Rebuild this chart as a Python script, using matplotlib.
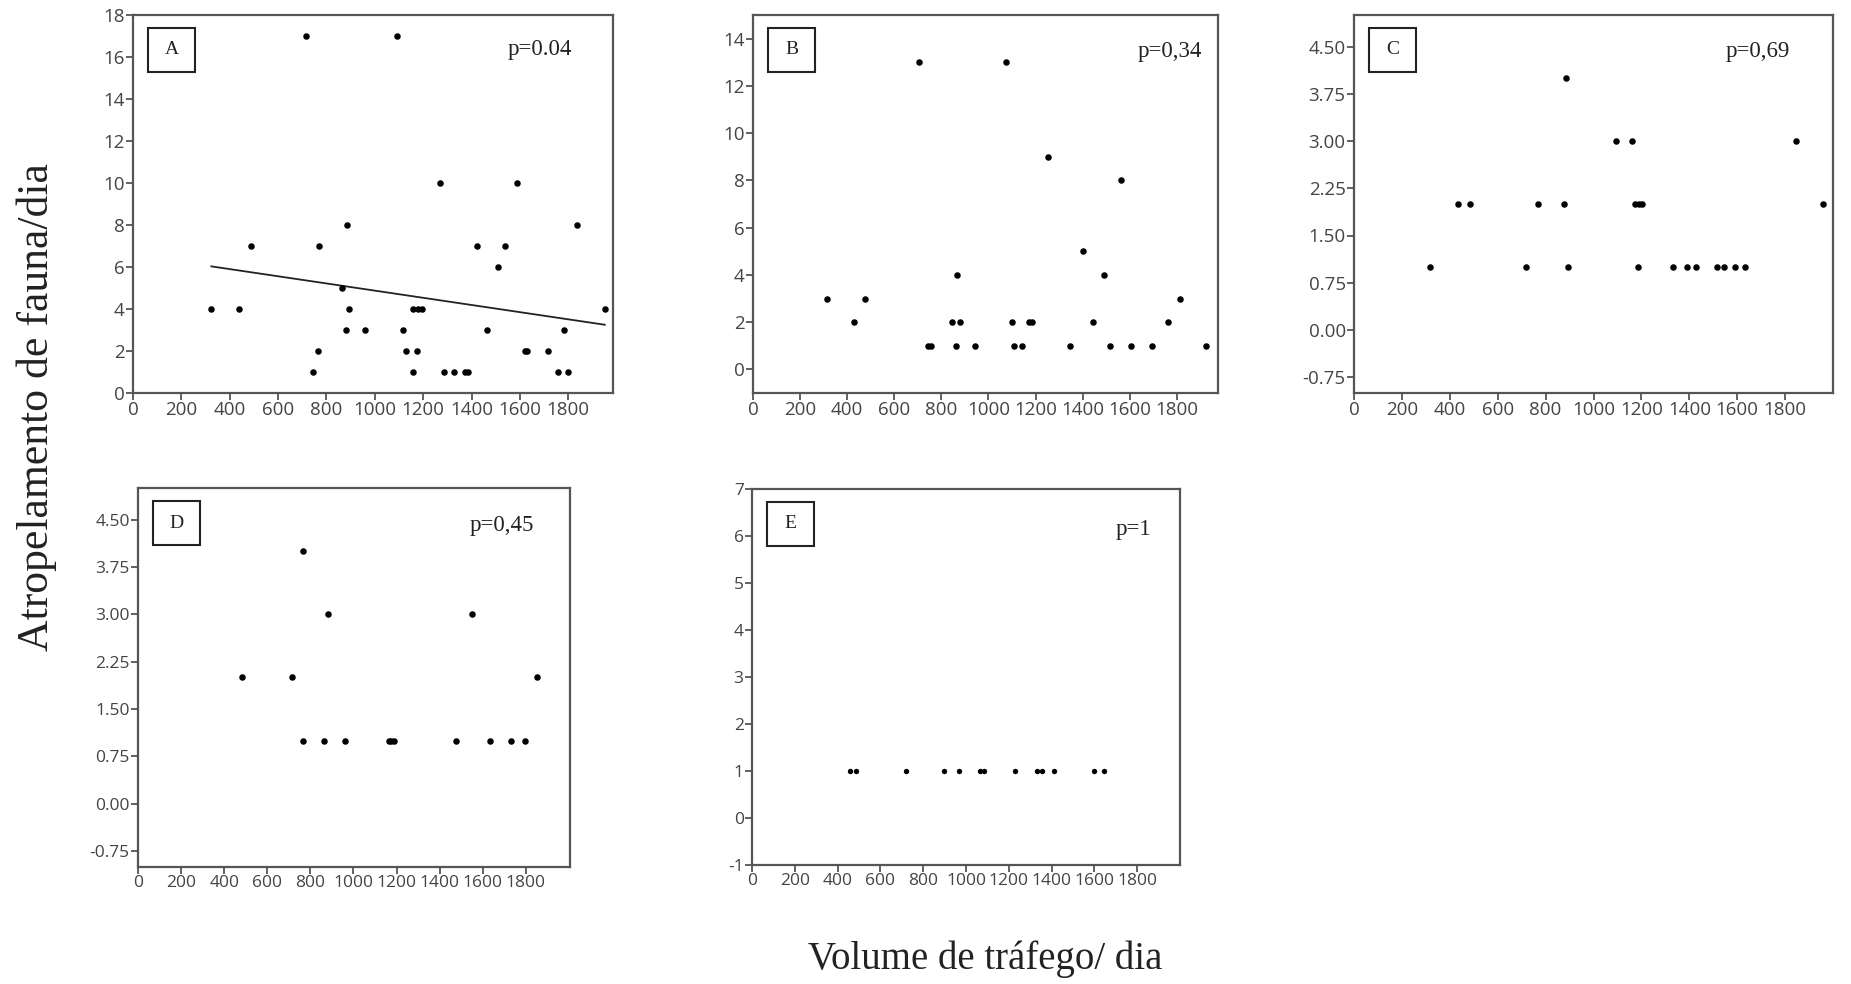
import numpy as np
import matplotlib.pyplot as plt
from matplotlib.patches import Rectangle

# dados (volume de tráfego/dia, atropelamentos/dia)
xa = [324, 439, 487, 717, 746, 765, 770, 863, 883, 880, 892, 958, 1092, 1117,
      1127, 1158, 1158, 1174, 1179, 1197, 1269, 1287, 1328, 1372, 1386, 1422,
      1465, 1511, 1538, 1586, 1620, 1630, 1717, 1758, 1783, 1800, 1837, 1951]
ya = [4, 4, 7, 17, 1, 2, 7, 5, 8, 3, 4, 3, 17, 3,
      2, 1, 4, 2, 4, 4, 10, 1, 1, 1, 1, 7,
      3, 6, 7, 10, 2, 2, 2, 1, 3, 1, 8, 4]
fit_a_x = [324, 1951]
fit_a_y = [6.03, 3.25]

xb = [313, 428, 476, 706, 745, 757, 847, 864, 868, 878, 942, 1076, 1100, 1108,
      1141, 1172, 1183, 1251, 1348, 1402, 1444, 1492, 1518, 1564, 1607, 1694,
      1762, 1813, 1923]
yb = [3, 2, 3, 13, 1, 1, 2, 1, 4, 2, 1, 13, 2, 1,
      1, 2, 2, 9, 1, 5, 2, 4, 1, 8, 1, 1,
      2, 3, 1]

xc = [317, 433, 484, 718, 770, 878, 885, 892, 1093, 1161, 1173, 1187, 1190,
      1204, 1332, 1392, 1428, 1514, 1545, 1591, 1633, 1846, 1960]
yc = [1, 2, 2, 1, 2, 2, 4, 1, 3, 3, 2, 1, 2,
      2, 1, 1, 1, 1, 1, 1, 1, 3, 2]

xd = [484, 717, 768, 767, 863, 880, 959, 1164, 1176, 1190, 1474, 1549, 1632,
      1730, 1795, 1850]
yd = [2, 2, 4, 1, 1, 3, 1, 1, 1, 1, 1, 3, 1, 1, 1, 2]

xe = [458, 487, 720, 895, 968, 1066, 1082, 1229, 1330, 1356, 1410, 1598, 1645]
ye = [1] * len(xe)

xticks = list(range(0, 1801, 200))
ticks_a = list(range(0, 19, 2))
ticks_b = list(range(0, 15, 2))
ticks_cd = [-0.75, 0.0, 0.75, 1.5, 2.25, 3.0, 3.75, 4.5]
ticks_e = list(range(-1, 8))

W, H = 1851, 984
fig = plt.figure(figsize=(W / 100, H / 100), dpi=100)

gray = '#555555'
tick_font = 'Open Sans'


def painel(px, x, y, xlim, ylim, yticks, ylabels, letra, ptxt, ppos, s=22,
           tsize=13.5):
    l, r, t, b = px
    ax = fig.add_axes([l / W, 1 - b / H, (r - l) / W, (b - t) / H])
    ax.scatter(x, y, s=s, c='black', linewidths=0, zorder=3)
    ax.set_xlim(*xlim)
    ax.set_ylim(*ylim)
    ax.set_xticks(xticks)
    ax.set_xticklabels([str(v) for v in xticks])
    ax.set_yticks(yticks)
    ax.set_yticklabels(ylabels)
    for sp in ax.spines.values():
        sp.set_color(gray)
        sp.set_linewidth(1.6)
    ax.tick_params(direction='out', length=5, width=1.3, color=gray,
                   labelcolor='#444444', labelsize=tsize, pad=1)
    for lab in ax.get_xticklabels() + ax.get_yticklabels():
        lab.set_fontfamily(tick_font)
    # caixa com a letra do painel
    bw, bh = 47 / (r - l), 44 / (b - t)
    bx, by = 15 / (r - l), 1 - 13 / (b - t) - bh
    ax.add_patch(Rectangle((bx, by), bw, bh, transform=ax.transAxes,
                           fill=False, ec='#222222', lw=1.5, zorder=4))
    ax.text(bx + bw / 2, by + bh / 2, letra, transform=ax.transAxes,
            ha='center', va='center', fontsize=14, family='Liberation Serif',
            color='#222222')
    fig.text(ppos[0] / W, 1 - ppos[1] / H, ptxt, ha='center', va='center',
             fontsize=16.5, family='Liberation Serif', color='#222222')
    return ax


ax_a = painel((133, 613, 15, 393), xa, ya, (0, 1985), (0, 18), ticks_a,
              [str(v) for v in ticks_a], 'A', 'p=0.04', (540, 50))
ax_a.plot(fit_a_x, fit_a_y, color='#222222', lw=1.3, zorder=2)

painel((753, 1218, 15, 393), xb, yb, (0, 1975), (-1, 15), ticks_b,
       [str(v) for v in ticks_b], 'B', 'p=0,34', (1170, 52))
painel((1354, 1833, 15, 393), xc, yc, (0, 2000), (-1, 5), ticks_cd,
       ['%.2f' % v for v in ticks_cd], 'C', 'p=0,69', (1758, 52))
painel((138, 570, 488, 867), xd, yd, (0, 2005), (-1, 5), ticks_cd,
       ['%.2f' % v for v in ticks_cd], 'D', 'p=0,45', (502, 526), tsize=12.5)
painel((752, 1180, 489, 865), xe, ye, (0, 2000), (-1, 7), ticks_e,
       [str(v) for v in ticks_e], 'E', 'p=1', (1133, 530), s=15, tsize=12.5)

fig.text(37 / W, 1 - 407 / H, 'Atropelamento de fauna/dia', rotation=90,
         ha='center', va='center', fontsize=31.5, family='Liberation Serif',
         color='#222222')
fig.text(985 / W, 1 - 959 / H, 'Volume de tráfego/ dia', ha='center',
         va='center', fontsize=28, family='Liberation Serif', color='#222222')

fig.savefig('out.png', dpi=100)
